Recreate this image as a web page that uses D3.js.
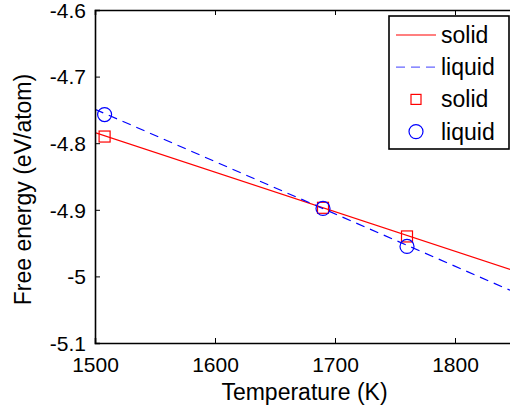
<!DOCTYPE html>
<html>
<head>
<meta charset="utf-8">
<script src="https://cdn.jsdelivr.net/npm/d3@7"></script>
<style>
  body { margin: 0; background: #fff; }
  svg { display: block; font-family: "Liberation Sans", Arial, sans-serif; }
</style>
</head>
<body>
<div id="root"></div>
<script>
// measured points
const tempPts = [1508, 1690, 1760];
const solidPts = [-4.790, -4.897, -4.940];
const liquidPts = [-4.757, -4.898, -4.955];

// fitted lines (end points)
const fitT = [1500, 1850];
const solidFit = [-4.784, -4.992];
const liquidFit = [-4.749, -5.024];

const xTicks = [1500, 1600, 1700, 1800];
const yTicks = [-5.1, -5, -4.9, -4.8, -4.7, -4.6];
const legendItems = ['solid', 'liquid', 'solid', 'liquid'];

const width = 510, height = 411;
const pLeft = 95, pTop = 10, pBottom = 343, pRight = 515;

const svg = d3.select('#root').append('svg')
              .attr('width', width)
              .attr('height', height);

const x = d3.scaleLinear().domain([1500, 1850]).range([pLeft, pRight]);
const y = d3.scaleLinear().domain([-5.1, -4.6]).range([pBottom, pTop]);

svg.append('defs').append('clipPath').attr('id', 'clip')
   .append('rect')
   .attr('x', pLeft).attr('y', pTop)
   .attr('width', pRight - pLeft).attr('height', pBottom - pTop);

const plot = svg.append('g').attr('clip-path', 'url(#clip)');

const line = d3.line().x(d => x(d[0])).y(d => y(d[1]));

plot.append('path')
    .datum(fitT.map((t, i) => [t, solidFit[i]]))
    .attr('d', line)
    .attr('fill', 'none')
    .attr('stroke', '#ff0000')
    .attr('stroke-width', 1.2);

plot.append('path')
    .datum(fitT.map((t, i) => [t, liquidFit[i]]))
    .attr('d', line)
    .attr('fill', 'none')
    .attr('stroke', '#0000ff')
    .attr('stroke-width', 1.2)
    .attr('stroke-dasharray', '9,6');

plot.selectAll('rect.sq')
    .data(tempPts).enter()
    .append('rect')
    .attr('class', 'sq')
    .attr('x', d => x(d) - 5.5)
    .attr('y', (d, i) => y(solidPts[i]) - 5.5)
    .attr('width', 11).attr('height', 11)
    .attr('fill', 'none')
    .attr('stroke', '#ff0000')
    .attr('stroke-width', 1.2);

plot.selectAll('circle.ci')
    .data(tempPts).enter()
    .append('circle')
    .attr('class', 'ci')
    .attr('cx', d => x(d))
    .attr('cy', (d, i) => y(liquidPts[i]))
    .attr('r', 7)
    .attr('fill', 'none')
    .attr('stroke', '#0000ff')
    .attr('stroke-width', 1.2);

// axes box (inward ticks like matlab)
const xAxis = svg.append('g')
   .attr('transform', `translate(0,${pBottom})`)
   .call(d3.axisBottom(x).tickValues(xTicks).tickSize(-5).tickPadding(10).tickFormat(d3.format('d')));
const xTop = svg.append('g')
   .attr('transform', `translate(0,${pTop})`)
   .call(d3.axisTop(x).tickValues(xTicks).tickSize(-5).tickFormat(''));
const yAxis = svg.append('g')
   .attr('transform', `translate(${pLeft},0)`)
   .call(d3.axisLeft(y).tickValues(yTicks).tickSize(-5).tickPadding(9).tickFormat(d => String(+d.toFixed(1))));

[xAxis, xTop, yAxis].forEach(a => {
  a.select('.domain').attr('stroke', '#000').attr('stroke-width', 1.6);
  a.selectAll('.tick line').attr('stroke', '#000').attr('stroke-width', 1);
  a.selectAll('text').attr('fill', '#000').style('font-size', '21px').style('font-family', '"Liberation Sans", Arial, sans-serif');
});
xAxis.selectAll('text').attr('dy', '0.9em');
yAxis.selectAll('text').attr('dy', '0.35em');

svg.append('text')
   .text('Temperature (K)')
   .attr('x', (pLeft + 510) / 2 + 2)
   .attr('y', 400)
   .attr('text-anchor', 'middle')
   .style('font-size', '23px');

svg.append('text')
   .text('Free energy (eV/atom)')
   .attr('transform', `translate(31,${(pTop + pBottom) / 2 + 13}) rotate(-90)`)
   .attr('text-anchor', 'middle')
   .style('font-size', '23px');

// legend
const legend = svg.append('g').attr('id', 'legend');
legend.append('rect')
      .attr('x', 389).attr('y', 16)
      .attr('width', 120).attr('height', 133)
      .attr('fill', '#fff')
      .attr('stroke', '#000')
      .attr('stroke-width', 1.6);

const rows = legend.selectAll('g.row')
      .data(legendItems).enter()
      .append('g')
      .attr('class', 'row')
      .attr('transform', (d, i) => `translate(0,${35 + i * 32.2})`);

rows.append('text')
    .text(d => d)
    .attr('x', 441)
    .attr('dy', '0.35em')
    .style('font-size', '23px');

rows.filter((d, i) => i < 2).append('line')
    .attr('x1', 396).attr('x2', 436)
    .attr('stroke', (d, i) => i === 0 ? '#ff0000' : '#6666ff')
    .attr('stroke-width', 1.2)
    .attr('stroke-dasharray', (d, i) => i === 0 ? null : '9,6');

rows.filter((d, i) => i === 2).append('rect')
    .attr('x', 411).attr('y', -5)
    .attr('width', 10).attr('height', 10)
    .attr('fill', 'none')
    .attr('stroke', '#ff0000')
    .attr('stroke-width', 1.2);

rows.filter((d, i) => i === 3).append('circle')
    .attr('cx', 416).attr('r', 7)
    .attr('fill', 'none')
    .attr('stroke', '#0000ff')
    .attr('stroke-width', 1.2);
</script>
</body>
</html>
